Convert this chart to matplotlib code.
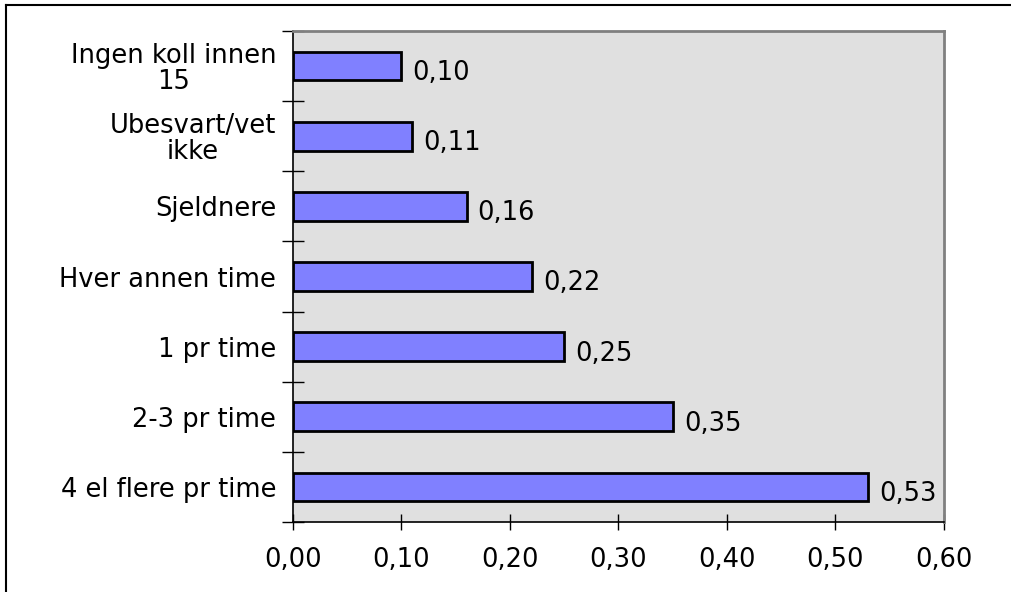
import matplotlib.pyplot as plt
from matplotlib.lines import Line2D
import numpy as np

plt.rcParams['font.family'] = ['DejaVu Sans']

# kategorier fra toppen og ned
kategorier = ["Ingen koll innen\n15", "Ubesvart/vet\nikke", "Sjeldnere",
              "Hver annen time", "1 pr time", "2-3 pr time", "4 el flere pr time"]
andel = [0.10, 0.11, 0.16, 0.22, 0.25, 0.35, 0.53]
x_ticks = [0.0, 0.1, 0.2, 0.3, 0.4, 0.5, 0.6]

fs = 18.5

fig = plt.figure(figsize=(10.11, 5.92), dpi=100)
ax = fig.add_axes([0.2898, 0.1182, 0.6439, 0.8294])
ax.set_facecolor('#E0E0E0')

y = np.arange(len(kategorier))[::-1]
ax.barh(y, andel, height=0.41, color='#8080FF', edgecolor='black', linewidth=2)

for yi, v in zip(y, andel):
    ax.annotate(("%.2f" % v).replace('.', ','), (v, yi), xytext=(8, -5),
                textcoords='offset points', ha='left', va='center', fontsize=fs)

ax.set_xlim(0, 0.6)
ax.set_ylim(-0.5, len(kategorier) - 0.5)
ax.set_xticks(x_ticks)
ax.set_xticklabels([("%.2f" % t).replace('.', ',') for t in x_ticks], fontsize=fs)
ax.set_yticks(y)
ax.set_yticklabels(kategorier, fontsize=fs, multialignment='center', linespacing=1.0)
ax.set_yticks(np.arange(-0.5, len(kategorier)), minor=True)

ax.tick_params(axis='y', which='major', length=0, pad=12)
ax.tick_params(axis='y', which='minor', direction='inout', length=16, width=1, color='black')
ax.tick_params(axis='x', direction='inout', length=12, width=1, pad=12)

for s in ['left', 'bottom']:
    ax.spines[s].set_color('black')
    ax.spines[s].set_linewidth(1.2)
for s in ['top', 'right']:
    ax.spines[s].set_color('#808080')
    ax.spines[s].set_linewidth(2)

# ramme rundt figuren (topp og venstre)
fig.add_artist(Line2D([6 / 1011, 1.0], [1 - 5 / 592, 1 - 5 / 592], color='black', lw=1.5))
fig.add_artist(Line2D([6 / 1011, 6 / 1011], [0.0, 1 - 5 / 592], color='black', lw=1.5))

fig.savefig('out.png', dpi=100)
